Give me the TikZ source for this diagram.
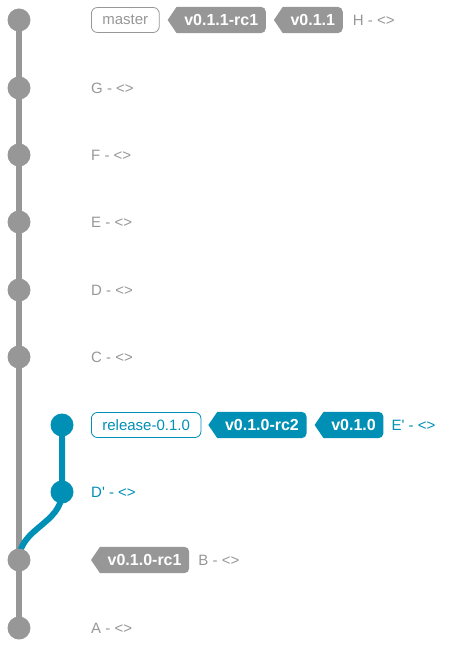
\documentclass[tikz,border=0pt]{standalone}
\usepackage{fontspec}
\setmainfont{Liberation Sans}
\usetikzlibrary{positioning,backgrounds}
\definecolor{mastergray}{HTML}{979797}
\definecolor{releaseblue}{HTML}{008FB5}
\tikzset{
  commit/.style={circle, fill=#1, minimum size=23pt, inner sep=0pt},
  msg/.style={text=#1, inner sep=0pt, font=\fontsize{15}{18}\selectfont},
  branchbox/.style={draw=#1, text=#1, fill=white, rounded corners=6pt, line width=0.8pt,
    minimum height=25pt, inner xsep=11pt, inner ysep=0pt, font=\fontsize{15}{18}\selectfont},
  tagbox/.style={text=white, minimum height=26pt, inner xsep=7.5pt, inner ysep=0pt,
    font=\bfseries\fontsize{16}{18}\selectfont},
  branchline/.style={draw=#1, line width=6pt},
}
\begin{document}
\begin{tikzpicture}[x=1pt, y=-1pt]
\useasboundingbox (0,0) rectangle (450,652);

% commits
\node[commit=mastergray] (H) at (19,20) {};
\node[commit=mastergray] (G) at (19,88) {};
\node[commit=mastergray] (F) at (19,155) {};
\node[commit=mastergray] (E) at (19,222) {};
\node[commit=mastergray] (D) at (19,290) {};
\node[commit=mastergray] (C) at (19,357) {};
\node[commit=releaseblue] (Ep) at (62,425) {};
\node[commit=releaseblue] (Dp) at (62,492) {};
\node[commit=mastergray] (B) at (19,560) {};
\node[commit=mastergray] (A) at (19,628) {};

% branches, tags and messages
\node[branchbox=mastergray, anchor=west] (master) at (91,20) {master};
\node[tagbox, right=17pt of master] (rcH) {v0.1.1-rc1};
\node[tagbox, right=17pt of rcH] (relH) {v0.1.1};
\node[msg=mastergray, right=10pt of relH] (msgH) {H - <>};

\node[msg=mastergray, anchor=west] (msgG) at (91,88) {G - <>};
\node[msg=mastergray, anchor=west] (msgF) at (91,155) {F - <>};
\node[msg=mastergray, anchor=west] (msgE) at (91,222) {E - <>};
\node[msg=mastergray, anchor=west] (msgD) at (91,290) {D - <>};
\node[msg=mastergray, anchor=west] (msgC) at (91,357) {C - <>};

\node[branchbox=releaseblue, anchor=west] (release) at (91,425) {release-0.1.0};
\node[tagbox, right=16pt of release] (rcE) {v0.1.0-rc2};
\node[tagbox, right=17pt of rcE] (relE) {v0.1.0};
\node[msg=releaseblue, right=8pt of relE] (msgEp) {E\textquotesingle{} - <>};

\node[msg=releaseblue, anchor=west] (msgDp) at (91,492) {D\textquotesingle{} - <>};

\node[tagbox, anchor=west] (rcB) at (100,560) {v0.1.0-rc1};
\node[msg=mastergray, right=9pt of rcB] (msgB) {B - <>};

\node[msg=mastergray, anchor=west] (msgA) at (91,628) {A - <>};

\begin{scope}[on background layer]
\draw[branchline=mastergray] (H.center) -- (A.center);
\draw[branchline=releaseblue] (B.center) .. controls +(0,-32) and +(0,32) .. (Dp.center) -- (Ep.center);
\foreach \t/\c in {rcH/mastergray, relH/mastergray, rcE/releaseblue, relE/releaseblue, rcB/mastergray}
  \fill[\c] ([xshift=-9pt]\t.west) -- (\t.north west) [rounded corners=5pt] -- (\t.north east)
    -- (\t.south east) [sharp corners] -- (\t.south west) -- cycle;
\end{scope}
\end{tikzpicture}
\end{document}
